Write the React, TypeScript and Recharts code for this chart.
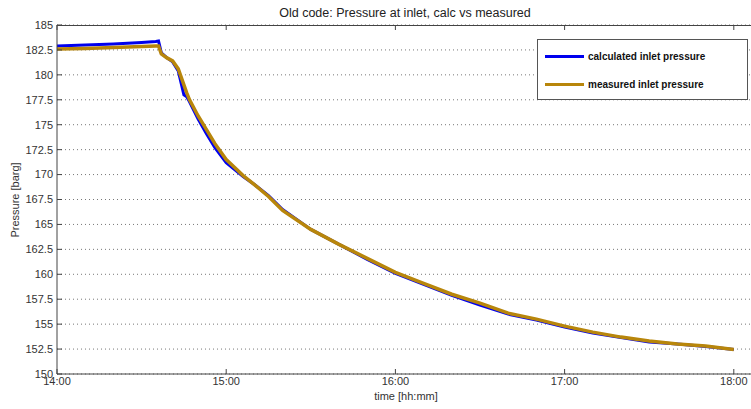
import { CartesianGrid, Legend, Line, LineChart, XAxis, YAxis } from "recharts";

// minutes after 14:00
const minutes = [0, 10, 20, 30, 35, 36, 37, 39, 41, 43, 45, 46, 47, 50, 53, 56, 60, 63, 66, 70, 75, 80, 90, 100, 110, 120, 130, 140, 150, 160, 170, 180, 190, 200, 210, 220, 230, 240];
const calculated = [182.9, 183.0, 183.1, 183.25, 183.35, 183.4, 182.2, 181.7, 181.3, 180.4, 178.0, 177.8, 177.3, 175.6, 174.1, 172.7, 171.2, 170.5, 169.8, 169.0, 167.9, 166.5, 164.5, 163.0, 161.5, 160.1, 159.0, 157.9, 156.9, 156.0, 155.4, 154.7, 154.1, 153.65, 153.2, 153.0, 152.75, 152.45];
const measured = [182.6, 182.65, 182.75, 182.85, 182.9, 182.9, 182.1, 181.7, 181.4, 180.6, 179.0, 178.2, 177.5, 175.9, 174.5, 173.1, 171.5, 170.7, 169.9, 169.0, 167.8, 166.4, 164.5, 163.0, 161.6, 160.2, 159.1, 158.0, 157.1, 156.1, 155.5, 154.8, 154.2, 153.7, 153.3, 153.0, 152.8, 152.45];
const timeTicks = [0, 60, 120, 180, 240];
const pressureTicks = [150, 152.5, 155, 157.5, 160, 162.5, 165, 167.5, 170, 172.5, 175, 177.5, 180, 182.5, 185];
const timeDomain = [0, 246.1];

const rows = minutes.map((t, i) => ({ t, calc: calculated[i], meas: measured[i] }));

const CHART_W = 751;
const PLOT_TOP = 25;
const PLOT_LEFT = 57;
const font = "Arial, 'Liberation Sans', sans-serif";
const tickStyle = { fontSize: 11, fill: "#333", fontFamily: font };

const fmtTime = (m: number) => `${14 + Math.floor(m / 60)}:${String(m % 60).padStart(2, "0")}`;

function LegendBox({ payload }: any) {
  return (
    <div style={{ width: 209, height: 59, border: "1px solid #555", background: "#fff", fontFamily: font, fontSize: 10, fontWeight: "bold", color: "#111", textAlign: "left" }}>
      {(payload || []).map((p: any, i: number) => (
        <div key={i} style={{ display: "flex", alignItems: "center", height: 14, marginTop: i === 0 ? 9 : 14 }}>
          <span style={{ display: "inline-block", width: 39, height: 3, background: p.color, marginLeft: 7, marginRight: 4 }} />
          {p.value}
        </div>
      ))}
    </div>
  );
}

// bottom tick label, plus the matching inward tick on the top frame line
function TimeTick({ x, y, payload, index }: any) {
  return (
    <g>
      {index === 0 && <path d={`M${PLOT_LEFT},${PLOT_TOP + 0.5}H${CHART_W}`} stroke="#444" strokeWidth={1} fill="none" />}
      <path d={`M${x},${PLOT_TOP}V${PLOT_TOP + 5}`} stroke="#444" strokeWidth={1} fill="none" />
      <text x={x} y={y} dy="0.71em" textAnchor="middle" {...tickStyle}>
        {fmtTime(payload.value)}
      </text>
    </g>
  );
}

export default function App() {
  return (
    <div style={{ position: "absolute", left: 0, top: 0, background: "#fff" }}>
      <LineChart width={CHART_W} height={409} data={rows} margin={{ top: PLOT_TOP, right: 0, bottom: 0, left: 0 }}>
        <CartesianGrid vertical={false} stroke="#777" strokeDasharray="1 3" />
        <XAxis
          dataKey="t"
          type="number"
          domain={timeDomain}
          ticks={timeTicks}
          height={35}
          tickSize={-5}
          tickMargin={8}
          tick={(p: any) => <TimeTick {...p} />}
          stroke="#444"
          allowDataOverflow
          label={{
            content: () => (
              <text x={406} y={400} textAnchor="middle" fontSize={11} fill="#333" fontFamily={font}>
                time [hh:mm]
              </text>
            ),
          }}
        />
        <YAxis
          type="number"
          domain={[150, 185]}
          ticks={pressureTicks}
          width={PLOT_LEFT}
          tickSize={-5}
          tickMargin={9}
          tick={tickStyle}
          stroke="#444"
          label={{
            content: () => (
              <g>
                <text x={405} y={17} textAnchor="middle" fontSize={12.5} fill="#222" fontFamily={font}>
                  Old code: Pressure at inlet, calc vs measured
                </text>
                <text x={19} y={200} transform="rotate(-90 19 200)" textAnchor="middle" fontSize={11} fill="#333" fontFamily={font}>
                  Pressure [barg]
                </text>
              </g>
            ),
          }}
        />
        <Legend
          layout="horizontal"
          verticalAlign="middle"
          align="center"
          content={<LegendBox />}
          wrapperStyle={{ left: 537, top: 39, width: 211, height: 61 }}
        />
        <Line
          type="linear"
          dataKey="calc"
          name="calculated inlet pressure"
          stroke="#0000ee"
          strokeWidth={3}
          dot={false}
          isAnimationActive={false}
        />
        <Line
          type="linear"
          dataKey="meas"
          name="measured inlet pressure"
          stroke="#b8860b"
          strokeWidth={3.5}
          dot={false}
          isAnimationActive={false}
        />
      </LineChart>
    </div>
  );
}
